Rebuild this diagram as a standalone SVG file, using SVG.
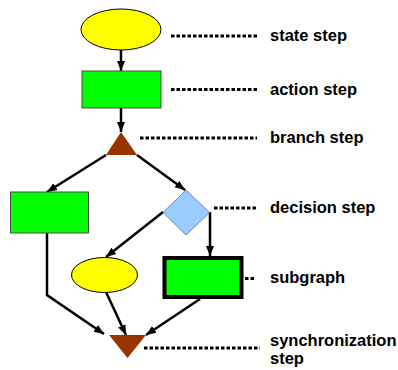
<svg xmlns="http://www.w3.org/2000/svg" width="398" height="370" viewBox="0 0 398 370">
  <defs>
    <marker id="arrow" markerUnits="userSpaceOnUse" markerWidth="10" markerHeight="10" viewBox="0 0 10 10" refX="10" refY="5" orient="auto">
      <path d="M0,1 L10,5 L0,9 Z" fill="#000"/>
    </marker>
    <style>
      .edge { fill: none; stroke: #000; stroke-width: 2.5; marker-end: url(#arrow); }
      .state { fill: #ffff00; stroke: #000; stroke-width: 1; }
      .action { fill: #00ff00; stroke: #4a4a4a; stroke-width: 1; }
      .subgraph { fill: #00ff00; stroke: #000; stroke-width: 4; }
      .decision { fill: #99ccff; stroke: #6a88a8; stroke-width: 1; }
      .tri { fill: #993300; stroke: none; }
      .leader { fill: none; stroke: #000; stroke-width: 3; stroke-dasharray: 3.5 2; }
      .label { font-family: "Liberation Sans", Arial, sans-serif; font-weight: bold; font-size: 16.5px; fill: #000; }
    </style>
  </defs>

  <!-- connectors -->
  <g id="connectors">
    <path class="edge" d="M121,50 L121,71"/>
    <path class="edge" d="M121,108 L121,132"/>
    <path class="edge" d="M106,155 L47,192"/>
    <path class="edge" d="M137,155 L185,190"/>
    <path class="edge" d="M163,212 L106,257"/>
    <path class="edge" d="M210,212 L210,256"/>
    <path class="edge" d="M47,233 L47,295 L104,334"/>
    <path class="edge" d="M106,292 L126,335"/>
    <path class="edge" d="M200,299 L146,335"/>
  </g>

  <!-- nodes -->
  <g id="state-top">
    <ellipse class="state" cx="121" cy="29.5" rx="40" ry="20.5"/>
  </g>
  <g id="action-top">
    <rect class="action" x="82" y="71" width="79" height="37"/>
  </g>
  <g id="branch">
    <polygon class="tri" points="121,132 106,155 137,155"/>
  </g>
  <g id="action-left">
    <rect class="action" x="10.5" y="192" width="78" height="41"/>
  </g>
  <g id="decision">
    <polygon class="decision" points="186,190 209.5,212.5 186,235 163,212.5"/>
  </g>
  <g id="state-small">
    <ellipse class="state" cx="104.5" cy="275" rx="33" ry="17.5"/>
  </g>
  <g id="subgraph">
    <rect class="subgraph" x="164.5" y="258" width="77" height="39"/>
  </g>
  <g id="sync">
    <polygon class="tri" points="109,335 146,335 127.5,358"/>
  </g>

  <!-- legend leaders and labels -->
  <g id="legend">
    <line class="leader" x1="171" y1="36" x2="259" y2="36"/>
    <text class="label" x="270" y="41">state step</text>

    <line class="leader" x1="171" y1="89.5" x2="259" y2="89.5"/>
    <text class="label" x="270" y="94.5">action step</text>

    <line class="leader" x1="140" y1="138" x2="257" y2="138"/>
    <text class="label" x="270" y="143">branch step</text>

    <line class="leader" x1="214" y1="208" x2="258" y2="208"/>
    <text class="label" x="270" y="212.5">decision step</text>

    <line class="leader" x1="245" y1="278.5" x2="254" y2="278.5"/>
    <text class="label" x="270" y="283">subgraph</text>

    <line class="leader" x1="144" y1="348" x2="260" y2="348"/>
    <text class="label" x="270" y="346">synchronization</text>
    <text class="label" x="270" y="364">step</text>
  </g>
</svg>
